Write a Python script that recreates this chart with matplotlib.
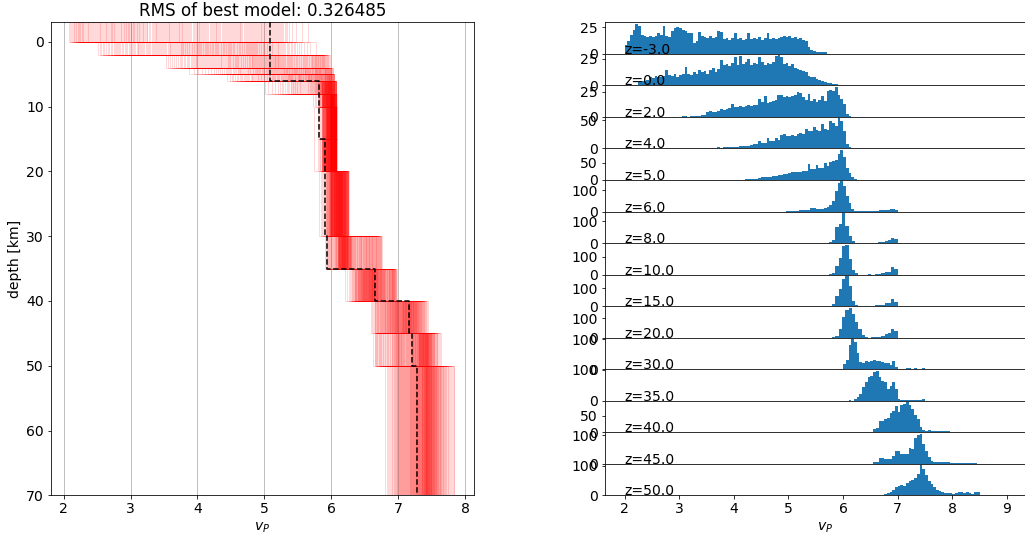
import numpy as np
import matplotlib
matplotlib.use("Agg")
import matplotlib.pyplot as plt

# ---------------- data ----------------
depths = [-3.0, 0.0, 2.0, 4.0, 5.0, 6.0, 8.0, 10.0, 15.0, 20.0, 30.0, 35.0, 40.0, 45.0, 50.0]
model_bottom = 70.0
best_vp = [5.08, 5.08, 5.08, 5.08, 5.08, 5.82, 5.82, 5.82, 5.90, 5.91, 5.93, 6.65, 7.16, 7.21, 7.28]
rms_best = 0.326485

# velocity span of the plotted ensemble (left panel) per layer
line_lo = [2.07, 2.50, 3.52, 3.83, 4.41, 4.98, 5.71, 5.71, 5.71, 5.75, 5.91, 6.10, 6.58, 6.61, 6.80]
line_hi = [5.71, 5.83, 5.98, 6.03, 6.05, 6.08, 6.08, 6.08, 6.08, 6.26, 6.76, 6.98, 7.45, 7.65, 7.85]

# histograms (right panel): first bin edge, bin width, counts
hist_start = [2.0, 2.25, 3.0, 3.6, 4.2, 4.9, 5.74, 5.74, 5.74, 5.74, 6.0, 6.1, 6.55, 6.55, 6.75]
hist_width = [0.05, 0.05, 0.05, 0.05, 0.05, 0.05, 0.06, 0.06, 0.06, 0.06, 0.05, 0.05, 0.05, 0.05, 0.05]

counts_zm3 = [8, 12, 18, 22, 28, 26, 18, 17, 16, 17, 16, 17, 19, 18, 26, 17, 16, 21, 24, 25,
              24, 22, 21, 19, 19, 10, 12, 20, 17, 16, 15, 17, 15, 16, 21, 20, 14, 15, 13, 15,
              19, 14, 15, 13, 14, 19, 14, 15, 14, 16, 13, 15, 19, 14, 15, 14, 15, 16, 17, 16,
              17, 15, 16, 14, 15, 13, 12, 6, 4, 3, 2, 2, 2, 2]
counts_z0 = [3, 4, 4, 5, 8, 7, 9, 8, 8, 9, 14, 10, 9, 11, 8, 10, 11, 17, 11, 10, 12, 11, 14, 12,
             13, 11, 14, 16, 12, 15, 24, 19, 20, 18, 21, 26, 19, 27, 20, 22, 25, 19, 21, 20, 26,
             22, 19, 21, 20, 22, 27, 28, 26, 20, 21, 18, 20, 16, 15, 14, 13, 12, 9, 8, 8, 6,
             5, 4, 3, 2, 2, 1, 1]
counts_z2 = [0, 1, 1, 0, 1, 1, 1, 1, 2, 2, 5, 6, 5, 5, 6, 8, 7, 8, 9, 13, 10, 10, 11, 10, 11,
             12, 11, 12, 12, 18, 15, 21, 14, 15, 16, 17, 22, 22, 20, 21, 20, 21, 22, 25, 24,
             20, 17, 23, 16, 18, 15, 17, 21, 16, 26, 27, 26, 30, 22, 18, 13, 3, 1]
counts_z4 = [1, 1, 2, 1, 2, 2, 2, 3, 3, 3, 4, 4, 5, 5, 6, 7, 8, 13, 9, 10, 19, 13, 13, 19, 15,
             24, 25, 22, 22, 23, 22, 26, 27, 26, 35, 30, 31, 37, 32, 31, 43, 34, 33, 49, 45,
             40, 53, 48, 30, 7, 3, 1]
counts_z5 = [2, 3, 2, 3, 3, 5, 8, 8, 9, 10, 12, 12, 14, 16, 18, 18, 19, 22, 24, 23, 24, 25, 26,
             46, 31, 32, 44, 34, 36, 51, 41, 54, 56, 58, 75, 88, 66, 36, 21, 8, 3]
counts_z6 = [0, 2, 3, 2, 3, 3, 5, 6, 6, 8, 15, 16, 12, 10, 11, 18, 21, 30, 48, 97, 134, 142,
             121, 72, 40, 13, 3, 2, 1, 1, 2, 2, 3, 4, 4, 5, 5, 6, 8, 10, 11, 9]
counts_z8 = [3, 16, 71, 86, 137, 79, 31, 8, 2, 0, 0, 0, 1, 0, 1, 4, 5, 10, 13, 25, 18]
counts_z10 = [1, 7, 46, 93, 158, 167, 84, 28, 7, 0, 0, 0, 1, 0, 3, 5, 7, 14, 16, 40, 30]
counts_z15 = [1, 9, 56, 94, 150, 168, 112, 28, 6, 0, 0, 1, 1, 2, 4, 6, 8, 15, 18, 37, 24]
counts_z20 = [0, 5, 9, 44, 106, 141, 155, 120, 80, 45, 12, 3, 0, 1, 3, 5, 8, 18, 26, 44, 32]
counts_z30 = [16, 30, 80, 100, 90, 55, 25, 21, 26, 24, 28, 29, 28, 27, 25, 21, 20, 14, 27, 8,
              2, 1, 0, 3, 3, 2, 3, 2, 0, 3]
counts_z35 = [1, 0, 4, 11, 22, 43, 60, 76, 81, 92, 97, 76, 65, 60, 38, 49, 60, 38, 5, 3,
              3, 2, 3, 3, 2, 3, 3, 5]
counts_z40 = [11, 12, 34, 35, 40, 45, 58, 64, 81, 62, 84, 86, 92, 84, 70, 52, 40, 17, 8, 3,
              6, 3, 4, 3, 3, 3, 3, 3, 2]
counts_z45 = [6, 6, 21, 21, 18, 18, 18, 29, 45, 45, 33, 33, 35, 57, 52, 92, 100, 106, 70, 45,
              25, 10, 6, 6, 5, 5, 5, 6, 4, 2, 2, 2, 2, 2, 2, 2, 2, 2]
counts_z50 = [4, 8, 12, 18, 27, 33, 35, 32, 41, 47, 53, 58, 74, 102, 88, 70, 50, 38, 27, 18,
              14, 12, 7, 8, 7, 6, 8, 10, 10, 8, 10, 7, 6, 10, 10]

hist_counts = [counts_zm3, counts_z0, counts_z2, counts_z4, counts_z5, counts_z6, counts_z8,
               counts_z10, counts_z15, counts_z20, counts_z30, counts_z35, counts_z40,
               counts_z45, counts_z50]

n_models = 250
pair_strides = [1, 3, 7, 9, 11, 13, 17, 19, 21, 23, 27, 29, 31, 33, 37]

# ---------------- figure ----------------
W, H = 1025, 534
plt.rcParams["font.size"] = 14
fig = plt.figure(figsize=(W / 72, H / 72), dpi=72)


def edges_of(k):
    c = np.asarray(hist_counts[k], float)
    return hist_start[k] + hist_width[k] * np.arange(len(c) + 1), c


# ensemble velocities per layer: quantiles of each histogram within plotted span
layer_vals = []
q = (np.arange(n_models) + 0.5) / n_models
for k in range(len(depths)):
    e, c = edges_of(k)
    xs = np.linspace(line_lo[k], line_hi[k], 3000)
    idx = np.clip(np.searchsorted(e, xs, side="right") - 1, 0, len(c) - 1)
    dens = c[idx] + 0.3
    cdf = np.cumsum(dens)
    cdf = (cdf - cdf[0]) / (cdf[-1] - cdf[0])
    vals = np.interp(q, cdf, xs)
    order = (np.arange(n_models) * pair_strides[k]) % n_models
    layer_vals.append(vals[order])
layer_vals = np.array(layer_vals)  # (layers, models)

tops = np.array(depths)
bots = np.append(tops[1:], model_bottom)
yy = np.column_stack([tops, bots]).ravel()

axL = fig.add_axes([51 / W, 1 - 495.3 / H, 423 / W, 473 / H])
for j in range(n_models):
    xx = np.repeat(layer_vals[:, j], 2)
    axL.plot(xx, yy, color="red", alpha=0.15, lw=1)
axL.plot(np.repeat(best_vp, 2), yy, "k--", lw=1.5, zorder=5)
axL.set_ylim(model_bottom, -3.0)
axL.set_xlim(1.81, 8.135)
axL.set_xticks(range(2, 9))
axL.set_yticks(range(0, 71, 10))
axL.grid(axis="x")
axL.set_axisbelow(True)
axL.set_ylabel("depth [km]")
axL.set_xlabel("$v_P$")
axL.set_title(f"RMS of best model: {rms_best:g}", fontsize=16.8)

# right: stacked histograms
top0 = 22.3
hh = (495.3 - top0) / len(depths)
x0 = 604.5
px_per_unit = (1007.0 - 624.5) / 7.0
xmin = 2.0 - (624.5 - x0) / px_per_unit
right_px = 1045.0
xmax = xmin + (right_px - x0) / px_per_unit
for k, d in enumerate(depths):
    top = top0 + k * hh
    ax = fig.add_axes([x0 / W, 1 - (top + hh) / H, (right_px - x0) / W, hh / H])
    e, c = edges_of(k)
    centers = 0.5 * (e[:-1] + e[1:])
    ax.hist(centers, bins=e, weights=c, color="C0")
    ax.set_xlim(xmin, xmax)
    ax.text(2.0, 0, f"z={d:.1f}", fontsize=14)
    if k < len(depths) - 1:
        ax.tick_params(axis="x", bottom=False, labelbottom=False)
    else:
        ax.set_xlabel("$v_P$")

fig.savefig("out.png", dpi=72)
